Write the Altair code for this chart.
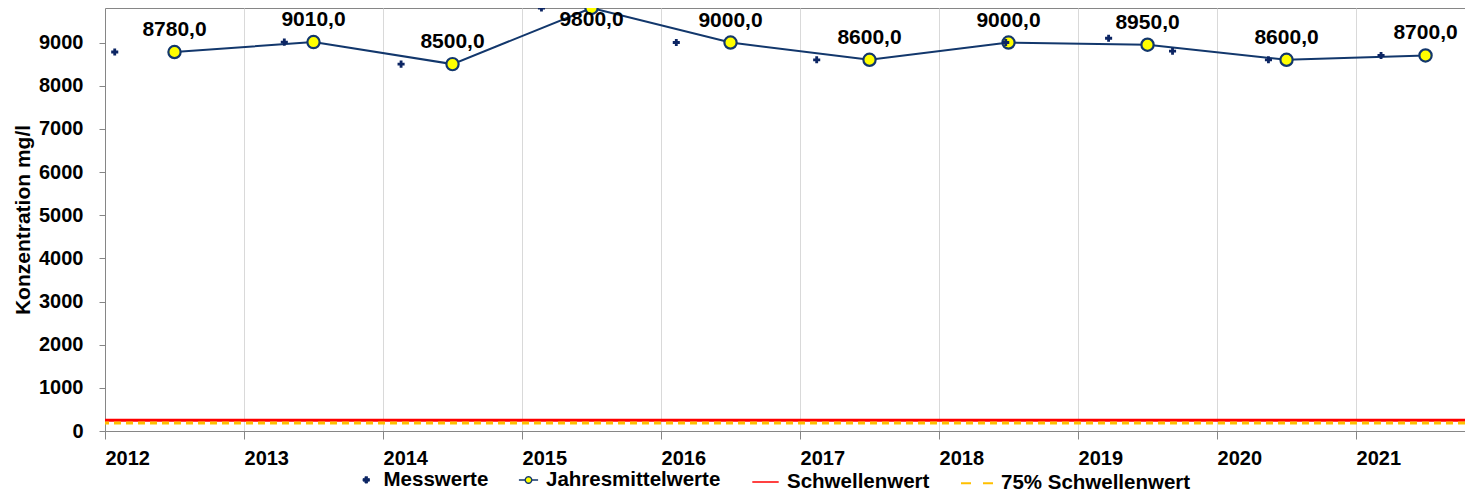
import altair as alt
import pandas as pd

# ---- data ----
mess_x = [2012.07, 2013.29, 2014.13, 2015.14, 2016.11, 2017.12, 2018.48, 2019.22, 2019.68, 2020.37, 2021.18]
mess_y = [8780, 9010, 8500, 9800, 9000, 8600, 9000, 9100, 8800, 8600, 8700]
mean_x = [2012.5, 2013.5, 2014.5, 2015.5, 2016.5, 2017.5, 2018.5, 2019.5, 2020.5, 2021.5]
mean_y = [8780, 9010, 8500, 9800, 9000, 8600, 9000, 8950, 8600, 8700]
schwellenwert = [250]
schwellenwert75 = [187.5]
years = list(range(2012, 2022))
y_ticks = list(range(0, 10000, 1000))
series = ["Messwerte", "Jahresmittelwerte", "Schwellenwert", "75% Schwellenwert"]

FONT = "Liberation Sans"
NAVY = "#12376c"
NAVY2 = "#0c2563"
YELLOW = "#ffff00"
RED = "#ff0000"
ORANGE = "#ffc000"
GRAY = "#868686"

mess_df = pd.DataFrame({"x": mess_x, "y": mess_y})
mean_df = pd.DataFrame({"x": mean_x, "y": mean_y,
                        "label": [f"{v:.1f}".replace(".", ",") for v in mean_y]})
sw_df = pd.DataFrame({"y": schwellenwert})
sw75_df = pd.DataFrame({"y": schwellenwert75})
leg_df = pd.DataFrame({"series": series})

xscale = alt.Scale(domain=[2012, 2021.784], nice=False, zero=False)
yscale = alt.Scale(domain=[0, 9800], nice=False)

xaxis = alt.Axis(values=years, format="d", title=None, labelAlign="left", labelFlush=False,
                 labelOverlap=False, labelBound=False, grid=True, gridColor="#d9d9d9",
                 tickSize=8, tickColor=GRAY, domainColor=GRAY, labelFont=FONT,
                 labelFontSize=20, labelFontWeight="bold", labelColor="black",
                 labelBaseline="top", labelPadding=9)
yaxis = alt.Axis(values=y_ticks, format="d", title="Konzentration mg/l", grid=False,
                 tickSize=6, tickColor=GRAY, domainColor=GRAY, labelFont=FONT,
                 labelFontSize=20, labelFontWeight="bold", labelColor="black",
                 labelPadding=16, titleFont=FONT, titleFontSize=21, titleFontWeight="bold",
                 titleColor="black", titlePadding=5)

base_x = alt.X("x:Q", scale=xscale, axis=xaxis)
base_y = alt.Y("y:Q", scale=yscale, axis=yaxis)

sw = alt.Chart(sw_df).mark_rule(color=RED, strokeWidth=3).encode(
    y=alt.Y("y:Q", scale=yscale, axis=yaxis))
sw75 = alt.Chart(sw75_df).mark_rule(color=ORANGE, strokeWidth=3, strokeDash=[7, 5]).encode(
    y=alt.Y("y:Q", scale=yscale, axis=yaxis))

mean_line = alt.Chart(mean_df).mark_line(color=NAVY, strokeWidth=2).encode(x=base_x, y=base_y)
mean_pts = alt.Chart(mean_df).mark_point(shape="circle", filled=True, fill=YELLOW, stroke=NAVY,
                                         strokeWidth=2.2, size=150, opacity=1).encode(x=base_x, y=base_y)
mess_pts = alt.Chart(mess_df).mark_point(shape="cross", filled=True, color=NAVY2, size=50,
                                         opacity=1).encode(x=base_x, y=base_y)

lbl_style = dict(fontSize=21, fontWeight="bold", font=FONT, color="black")
labels = alt.Chart(mean_df).mark_text(dy=-22, **lbl_style).encode(
    x=base_x, y=base_y, text="label:N").transform_filter("datum.y < 9500")
labels_top = alt.Chart(mean_df).mark_text(dy=12, **lbl_style).encode(
    x=base_x, y=base_y, text="label:N").transform_filter("datum.y >= 9500")

jm_path = ("M-1,0L-0.34,0M0.34,0L1,0M-0.34,0A0.34,0.34,0,1,1,0.34,0"
           "A0.34,0.34,0,1,1,-0.34,0Z")
leg = alt.Legend(title=None, orient="none", legendX=251, legendY=458, direction="horizontal",
                 labelFont=FONT, labelFontSize=20.5, labelFontWeight="bold", labelColor="black",
                 labelOffset=7, columnPadding=27, padding=0, labelLimit=400, symbolOpacity=1)

legend_layer = alt.Chart(leg_df).mark_point().encode(
    shape=alt.Shape("series:N", scale=alt.Scale(domain=series, range=["cross", jm_path, "stroke", "stroke"]), legend=leg),
    stroke=alt.Stroke("series:N", scale=alt.Scale(domain=series, range=[NAVY2, NAVY, RED, ORANGE]), legend=leg),
    fill=alt.Fill("series:N", scale=alt.Scale(domain=series, range=[NAVY2, YELLOW, "transparent", "transparent"]), legend=leg),
    size=alt.Size("series:N", scale=alt.Scale(domain=series, range=[40, 1024, 1024, 1024]), legend=leg),
    strokeWidth=alt.StrokeWidth("series:N", scale=alt.Scale(domain=series, range=[1, 2, 3, 3]), legend=leg),
    strokeDash=alt.StrokeDash("series:N", scale=alt.Scale(domain=series, range=[[1, 0], [1, 0], [1, 0], [10, 12]]), legend=leg),
).transform_filter("datum.series == 'none'")

chart = alt.layer(sw, sw75, mean_line, mean_pts, mess_pts, labels, labels_top, legend_layer).properties(
    width=1360, height=423,
    autosize=alt.AutoSizeParams(type="none"),
    padding={"left": 97, "top": 0, "right": 0, "bottom": 62},
).configure_view(stroke=GRAY, strokeWidth=1)

chart.save("out.html", embed_options={"renderer": "svg", "actions": False})
